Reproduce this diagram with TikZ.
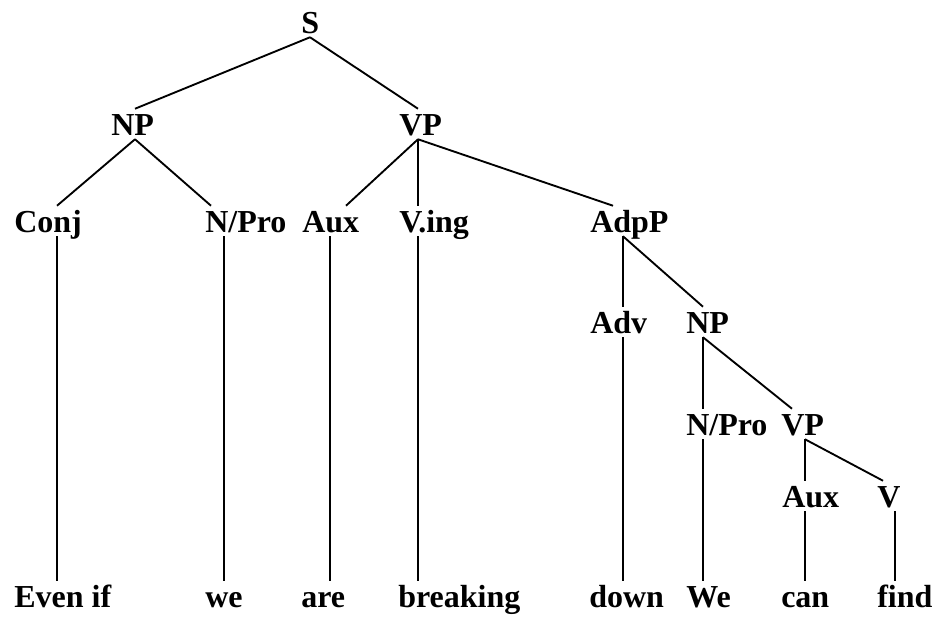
\documentclass[tikz,border=0pt]{standalone}
\usepackage{fontspec}
\setmainfont{Liberation Serif}
\usepackage{tikz}
\usetikzlibrary{calc}

\begin{document}
\begin{tikzpicture}[x=0.75pt, y=-0.75pt,
  lab/.style={inner sep=0pt, anchor=base west, text height=19.5pt, text depth=3pt,
    font=\fontsize{24}{28}\selectfont\bfseries},
  edge/.style={line width=1.4pt}]
\useasboundingbox (0,0) rectangle (940,619);
\node[lab] (s) at (301,33) {S};
\node[lab] (np) at (111,135) {NP};
\node[lab] (vp) at (399,135) {VP};
\node[lab] (conj) at (14,232) {Conj};
\node[lab] (npro) at (205,232) {N/Pro};
\node[lab] (aux) at (302,232) {Aux};
\node[lab] (ving) at (399,232) {V.ing};
\node[lab] (adpp) at (590,232) {AdpP};
\node[lab] (adv) at (590,333) {Adv};
\node[lab] (np2) at (686,333) {NP};
\node[lab] (npro2) at (686,435) {N/Pro};
\node[lab] (vp2) at (781,435) {VP};
\node[lab] (aux2) at (782,507) {Aux};
\node[lab] (v) at (877,507) {V};
\node[lab] (even) at (14,607) {Even if};
\node[lab] (we) at (205,607) {we};
\node[lab] (are) at (301,607) {are};
\node[lab] (breaking) at (398,607) {breaking};
\node[lab] (down) at (589,607) {down};
\node[lab] (we2) at (686,607) {We};
\node[lab] (can) at (781,607) {can};
\node[lab] (find) at (877,607) {find};
\draw[edge] ($(s.south west)+(9,0)$) -- ($(np.north west)+(24,0)$);
\draw[edge] ($(s.south west)+(9,0)$) -- ($(vp.north west)+(19,0)$);
\draw[edge] ($(np.south west)+(24,0)$) -- ($(conj.north west)+(43,0)$);
\draw[edge] ($(np.south west)+(24,0)$) -- ($(npro.north west)+(6,0)$);
\draw[edge] ($(vp.south west)+(19,0)$) -- ($(aux.north west)+(44,0)$);
\draw[edge] ($(vp.south west)+(19,0)$) -- ($(ving.north west)+(19,0)$);
\draw[edge] ($(vp.south west)+(19,0)$) -- ($(adpp.north west)+(23,0)$);
\draw[edge] ($(conj.south west)+(43,0)$) -- ($(even.north west)+(43,0)$);
\draw[edge] ($(npro.south west)+(19,0)$) -- ($(we.north west)+(19,0)$);
\draw[edge] ($(aux.south west)+(28,0)$) -- ($(are.north west)+(29,0)$);
\draw[edge] ($(ving.south west)+(19,0)$) -- ($(breaking.north west)+(20,0)$);
\draw[edge] ($(adpp.south west)+(33,0)$) -- ($(adv.north west)+(33,0)$);
\draw[edge] ($(adpp.south west)+(33,0)$) -- ($(np2.north west)+(17,0)$);
\draw[edge] ($(adv.south west)+(33,0)$) -- ($(down.north west)+(34,0)$);
\draw[edge] ($(np2.south west)+(17,0)$) -- ($(npro2.north west)+(17,0)$);
\draw[edge] ($(np2.south west)+(17,0)$) -- ($(vp2.north west)+(11,0)$);
\draw[edge] ($(npro2.south west)+(17,0)$) -- ($(we2.north west)+(17,0)$);
\draw[edge] ($(vp2.south west)+(24,0)$) -- ($(aux2.north west)+(23,0)$);
\draw[edge] ($(vp2.south west)+(24,0)$) -- ($(v.north west)+(6,0)$);
\draw[edge] ($(aux2.south west)+(23,0)$) -- ($(can.north west)+(24,0)$);
\draw[edge] ($(v.south west)+(18,0)$) -- ($(find.north west)+(18,0)$);
\end{tikzpicture}
\end{document}
